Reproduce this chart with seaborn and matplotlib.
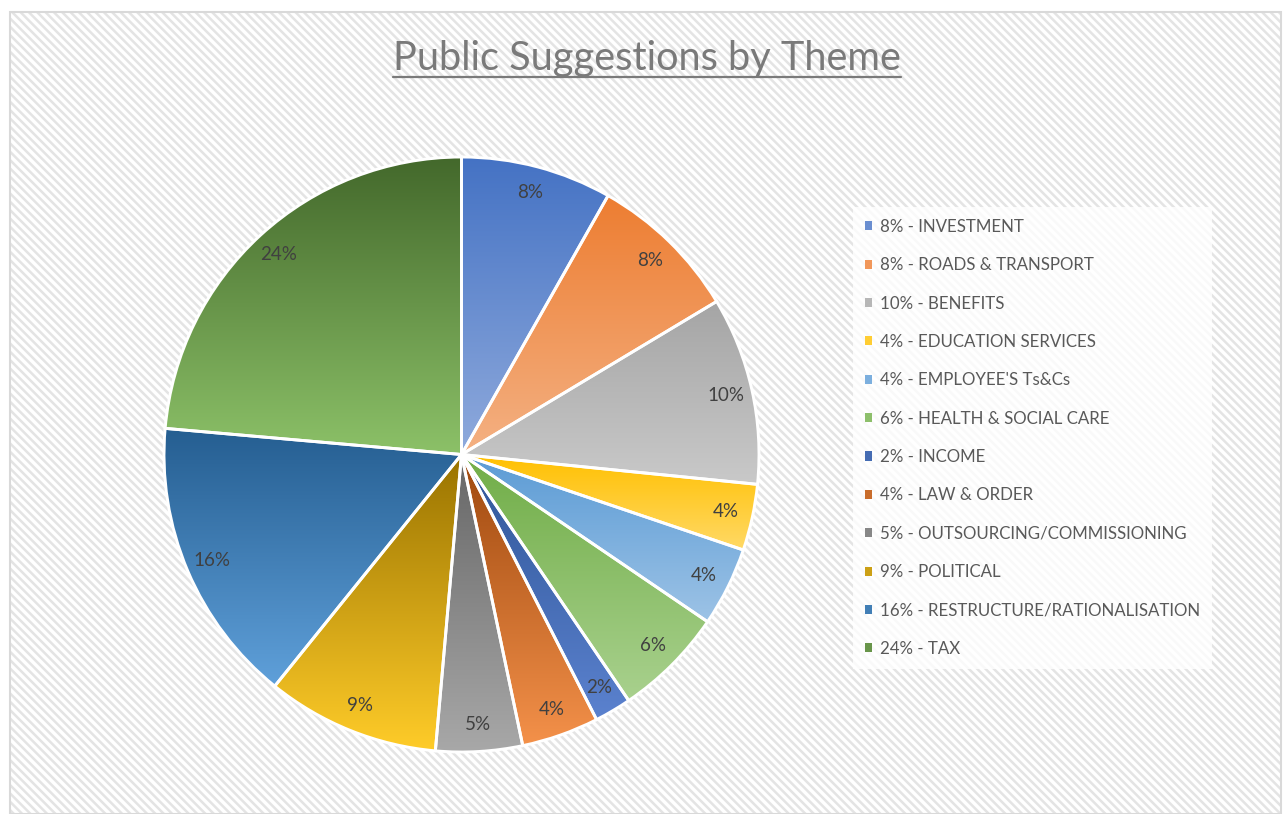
import numpy as np
import matplotlib
matplotlib.use("Agg")
import matplotlib.pyplot as plt
import seaborn as sns
from matplotlib.patches import Rectangle, Patch
from matplotlib.lines import Line2D

# data (share of suggestions, %)
themes = ["INVESTMENT", "ROADS & TRANSPORT", "BENEFITS", "EDUCATION SERVICES",
          "EMPLOYEE'S Ts&Cs", "HEALTH & SOCIAL CARE", "INCOME", "LAW & ORDER",
          "OUTSOURCING/COMMISSIONING", "POLITICAL", "RESTRUCTURE/RATIONALISATION", "TAX"]
share = [8.2, 8.2, 10.2, 3.6, 4.3, 6.0, 2.0, 4.2, 4.7, 9.4, 15.6, 23.6]

# office-like gradient fills, top -> bottom of each slice
top_colors = ["#4472C4", "#ED7D31", "#A5A5A5", "#FFC000", "#5B9BD5", "#70AD47",
              "#2F5597", "#9E480E", "#666666", "#997300", "#255E91", "#43682B"]
bottom_colors = ["#8FAADC", "#F4B183", "#C9C9C9", "#FFD966", "#9DC3E6", "#A9D18E",
                 "#5B82CF", "#F4914A", "#A8A8A8", "#FFCC29", "#5FA0DA", "#8CC168"]

sns.set_theme(style="white")
plt.rcParams["font.family"] = ["Lato", "DejaVu Sans"]
plt.rcParams["hatch.linewidth"] = 1.8

W, H = 1285, 814
fig = plt.figure(figsize=(W / 100, H / 100), dpi=100)
fig.patch.set_facecolor("white")

# hatched chart area + thin border (kept below the axes)
bg = Rectangle((10 / W, 0), 1271 / W, 802 / H, transform=fig.transFigure,
               facecolor="white", edgecolor="#e4e4e4", hatch="\\\\\\\\",
               linewidth=0, zorder=-3)
fig.patches.append(bg)
frame = Rectangle((10 / W, 0), 1271 / W, 802 / H, transform=fig.transFigure,
                  fill=False, edgecolor="#d9d9d9", linewidth=1.5, zorder=-2)
fig.patches.append(frame)

ax = fig.add_axes([164 / W, 62 / H, 595 / W, 595 / H])
ax.patch.set_alpha(0)

wedges, texts, autotexts = ax.pie(
    share, startangle=90, counterclock=False, autopct="%.0f%%", pctdistance=0.91,
    wedgeprops=dict(edgecolor="white", linewidth=2.1),
    textprops=dict(color="#404040", fontsize=13.5))

grad = np.linspace(0, 1, 256).reshape(-1, 1)
for w, c0, c1 in zip(wedges, top_colors, bottom_colors):
    ext = w.get_path().get_extents()
    cmap = sns.blend_palette([c0, c1], as_cmap=True)
    im = ax.imshow(grad, cmap=cmap, extent=(ext.x0, ext.x1, ext.y0, ext.y1),
                   origin="upper", aspect="auto", interpolation="bilinear", zorder=1)
    im.set_clip_path(w)
    w.set_facecolor("none")
    w.set_zorder(2)
    w.set_clip_on(False)
for t in autotexts:
    t.set_zorder(3)

ax.set_xlim(-1, 1)
ax.set_ylim(-1, 1)
ax.set_axis_off()

# legend
total = sum(share)
labels = [f"{100 * v / total:.0f}% - {t}" for v, t in zip(share, themes)]
handles = [Patch(facecolor=sns.blend_palette([c0, c1], 3)[1], edgecolor="none")
           for c0, c1 in zip(top_colors, bottom_colors)]
fig.legend(handles, labels, loc="upper left", bbox_to_anchor=(853 / W, 1 - 207 / H),
           frameon=True, fancybox=False, facecolor="white", edgecolor="none",
           framealpha=0.8, fontsize=12.2, labelcolor="#595959",
           handlelength=0.45, handleheight=0.45, handletextpad=0.42,
           labelspacing=1.32, borderpad=0.7, borderaxespad=0)

# underlined title
title = fig.text(647 / W, 1 - 70 / H, "Public Suggestions by Theme", ha="center",
                 va="baseline", fontsize=28.6, color="#7a7a7a")
fig.canvas.draw()
bb = title.get_window_extent(fig.canvas.get_renderer())
uy = 1 - 76.5 / H
fig.add_artist(Line2D([bb.x0 / W, bb.x1 / W], [uy, uy], transform=fig.transFigure,
                      color="#7a7a7a", linewidth=1.6))

fig.savefig("out.png", dpi=100)
